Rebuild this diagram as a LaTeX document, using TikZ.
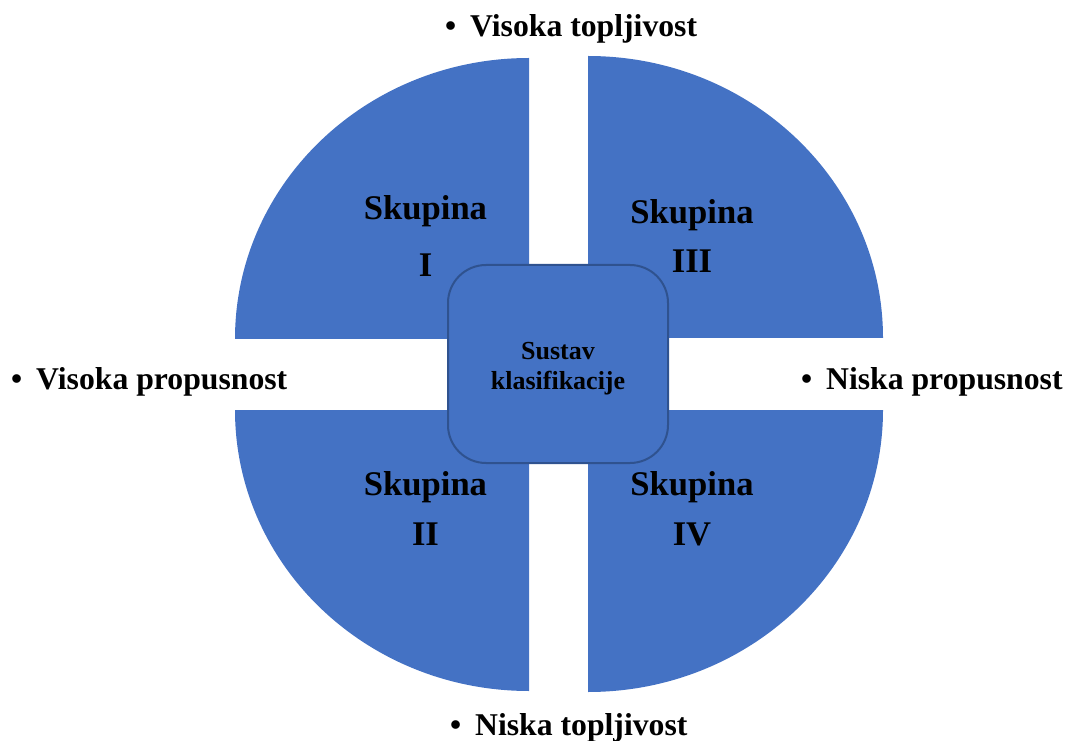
\documentclass[tikz,border=0pt]{standalone}
\usepackage{fontspec}
\setmainfont{Liberation Serif}
\definecolor{qblue}{HTML}{4472C4}
\definecolor{qedge}{HTML}{2F528F}
\begin{document}
\begin{tikzpicture}[x=1pt,y=1pt,
  quarter/.style={fill=qblue,draw=none},
  grp/.style={anchor=base,inner sep=0pt,font=\fontsize{34.6}{40}\bfseries\selectfont},
  side/.style={anchor=base west,inner sep=0pt,font=\fontsize{31.7}{38}\bfseries\selectfont},
  centerbox/.style={rectangle,rounded corners=38pt,fill=qblue,draw=qedge,line width=2pt,
    minimum width=220pt,minimum height=198pt,align=center,inner sep=0pt,
    font=\fontsize{26}{30}\bfseries\selectfont}]
\useasboundingbox (0,0) rectangle (1068,740);
% quarters
\path[quarter] (529,401) -- (235,401) arc[start angle=180,end angle=90,x radius=294,y radius=281] -- cycle;
\path[quarter] (588,402) -- (883,402) arc[start angle=0,end angle=90,x radius=295,y radius=282] -- cycle;
\path[quarter] (529,330) -- (235,330) arc[start angle=180,end angle=270,x radius=294,y radius=281] -- cycle;
\path[quarter] (588,330) -- (883,330) arc[start angle=0,end angle=-90,x radius=295,y radius=282] -- cycle;
% center
\node[centerbox] (center) at (558,376) {\rule{0pt}{26pt}Sustav\\klasifikacije};
% group labels
\node[grp] (g1a) at (425.5,520) {Skupina};
\node[grp] (g1b) at (425.7,463) {I};
\node[grp] (g3a) at (692,516) {Skupina};
\node[grp] (g3b) at (692,467) {III};
\node[grp] (g2a) at (425.5,245) {Skupina};
\node[grp] (g2b) at (425.5,195) {II};
\node[grp] (g4a) at (692,245) {Skupina};
\node[grp] (g4b) at (692,195) {IV};
% side labels
\node[side] (top) at (445,703) {\makebox[25pt][l]{\textbullet}Visoka topljivost};
\node[side] (bottom) at (450,5) {\makebox[25pt][l]{\textbullet}Niska topljivost};
\node[side] (left) at (11,351) {\makebox[25pt][l]{\textbullet}Visoka propusnost};
\node[side] (right) at (801,351) {\makebox[25pt][l]{\textbullet}Niska propusnost};
\end{tikzpicture}
\end{document}
